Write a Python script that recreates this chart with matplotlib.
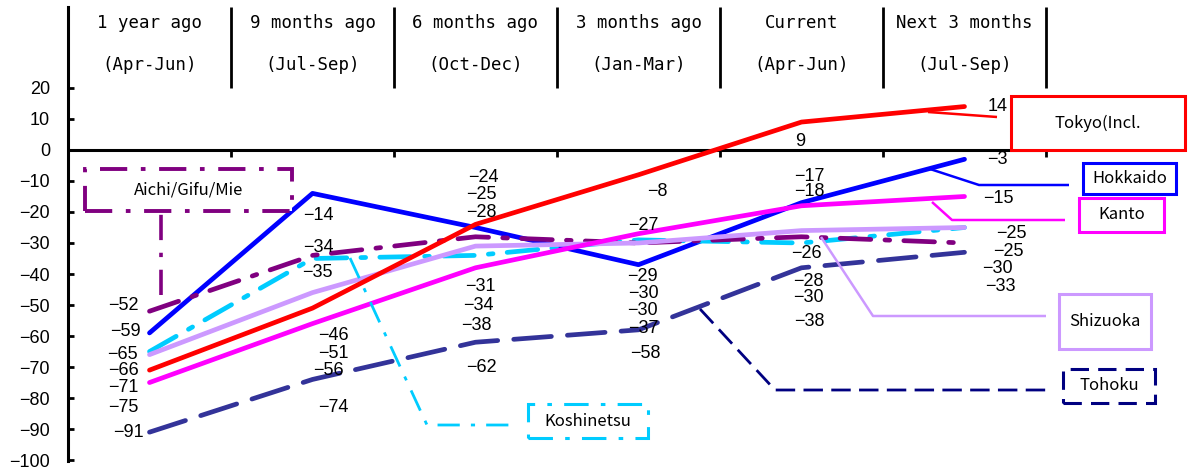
import matplotlib
matplotlib.use("Agg")
import matplotlib.pyplot as plt
from matplotlib.patches import Rectangle

# ---- data -------------------------------------------------------------
periods = ["1 year ago", "9 months ago", "6 months ago", "3 months ago",
           "Current", "Next 3 months"]
quarters = ["(Apr-Jun)", "(Jul-Sep)", "(Oct-Dec)", "(Jan-Mar)",
            "(Apr-Jun)", "(Jul-Sep)"]
y_ticks = list(range(-100, 21, 10))

tokyo = [-71, -51, -24, -8, 9, 14]
hokkaido = [-59, -14, -25, -37, -17, -3]
kanto = [-75, -56, -38, -27, -18, -15]
shizuoka = [-66, -46, -31, -30, -26, -25]
koshinetsu = [-65, -35, -34, -29, -30, -25]
aichi = [-52, -34, -28, -30, -28, -30]
tohoku = [-91, -74, -62, -58, -38, -33]

# ---- label placement (horizontal offset in px, vertical position) -----
lab_dx = {
    "tokyo": [-26, 21, 8, 19, -1, 33],
    "hokkaido": [-24, 6, 6, 5, 8, 33],
    "kanto": [-26, 16, 1, 5, 8, 34],
    "shizuoka": [-26, 21, 5, 4, 5, 47],
    "koshinetsu": [-27, 5, 3, 4, 7, 44],
    "aichi": [-26, 6, 6, 5, 7, 33],
    "tohoku": [-21, 21, 6, 7, 8, 36],
}
lab_y = {
    "tokyo": [-76.5, -65.5, -9, -13.5, 2.6, 14],
    "hokkaido": [-58.7, -21, -14.5, -57.6, -8.6, -3.2],
    "kanto": [-83, -71, -56.5, -24.2, -13.4, -15.8],
    "shizuoka": [-71, -59.7, -43.9, -51.8, -33.5, -27],
    "koshinetsu": [-66, -39.4, -50, -40.9, -47.6, -32.9],
    "aichi": [-50, -31.6, -20.3, -46.4, -42.5, -38.1],
    "tohoku": [-91, -83.2, -70, -65.5, -55.4, -43.9],
}

W, H, DPI = 1190, 472, 100
fig = plt.figure(figsize=(W / DPI, H / DPI), dpi=DPI)
fig.patch.set_facecolor("white")

# axes spans the plotting frame; top part holds the period headers
ax = fig.add_axes([68 / W, 11 / H, (1046 - 68) / W, (461 - 7) / H])
ax.set_xlim(-0.5, 5.5)
ax.set_ylim(-100.3, 46.1)

num_font = ["Liberation Sans", "DejaVu Sans"]
box_font = ["Noto Sans CJK JP", "DejaVu Sans"]
head_font = ["DejaVu Sans Mono"]

for s in ("top", "right", "bottom"):
    ax.spines[s].set_visible(False)
ax.spines["left"].set_linewidth(2.2)
ax.set_xticks([])
ax.set_yticks(y_ticks)
ax.tick_params(axis="y", direction="in", length=4, width=2, pad=13,
               labelsize=13)
for t in ax.get_yticklabels():
    t.set_family(num_font)

x = list(range(len(periods)))

# zero line, category ticks and header separators
ax.axhline(0, color="black", lw=2.2, zorder=2)
seps = [i + 0.5 for i in x]
ax.vlines(seps, -2.3, 0, color="black", lw=2, zorder=2, clip_on=False)
ax.vlines(seps, 20, 46.1, color="black", lw=2, zorder=2, clip_on=False)
for i in x:
    ax.text(i, 41, periods[i], ha="center", va="center", fontsize=12.5,
            family=head_font)
    ax.text(i, 27.4, quarters[i], ha="center", va="center", fontsize=12.5,
            family=head_font)

LW = 3.4
dashdot = (6.5, 3.0, 1.0, 3.0)
series = [
    ("hokkaido", hokkaido, "#0000FF", None),
    ("tohoku", tohoku, "#333399", (8.0, 3.4)),
    ("koshinetsu", koshinetsu, "#00CCFF", dashdot),
    ("aichi", aichi, "#800080", dashdot),
    ("shizuoka", shizuoka, "#CC99FF", None),
    ("kanto", kanto, "#FF00FF", None),
    ("tokyo", tokyo, "#FF0000", None),
]
for k, (name, vals, col, dash) in enumerate(series):
    line, = ax.plot(x, vals, color=col, lw=LW, solid_capstyle="round",
                    solid_joinstyle="round", dash_capstyle="round",
                    zorder=3 + k)
    if dash is not None:
        line.set_dashes(dash)
    for i, v in enumerate(vals):
        ax.annotate(f"{v:d}".replace("-", "\u2212"),
                    xy=(i, lab_y[name][i]),
                    xytext=(lab_dx[name][i] * 72 / DPI, 0),
                    textcoords="offset points", ha="center", va="center",
                    fontsize=13, family=num_font, zorder=20,
                    annotation_clip=False)

# ---- callout labels ---------------------------------------------------
inv = ax.transData.inverted()


def P(px, py):
    return tuple(inv.transform((px, H - py)))


def leader(pts, color, lw=1.8, dashes=None):
    xs, ys = zip(*[P(a, b) for a, b in pts])
    ln, = ax.plot(xs, ys, color=color, lw=lw, clip_on=False, zorder=15,
                  solid_capstyle="butt")
    if dashes is not None:
        ln.set_dashes(dashes)


def box(x0, y0, x1, y1, text, color, lw=2.2, dashes=None):
    (a, b) = P(x0, y1)
    (c, d) = P(x1, y0)
    r = Rectangle((a, b), c - a, d - b, fill=True, facecolor="white",
                  edgecolor=color, lw=lw, clip_on=False, zorder=16)
    if dashes is not None:
        r.set_linestyle((0, dashes))
    ax.add_patch(r)
    ax.text((a + c) / 2, (b + d) / 2, text, ha="center", va="center",
            fontsize=12, family=box_font, zorder=17, clip_on=False)


leader([(928, 112), (997, 117)], "#FF0000")
box(1011, 96, 1185, 150, "Tokyo(Incl.", "#FF0000")

leader([(930, 169), (979, 185), (1069, 185)], "#0000FF")
box(1083, 163, 1176, 194, "Hokkaido", "#0000FF")

leader([(932, 202), (952, 220), (1065, 220)], "#FF00FF")
box(1079, 198, 1164, 232, "Kanto", "#FF00FF")

leader([(821, 237), (873, 316), (1046, 316)], "#CC99FF")
box(1059, 294, 1151, 349, "Shizuoka", "#CC99FF")

leader([(700, 309), (775, 390), (1048, 390)], "#000080", lw=2.0,
       dashes=(7, 3))
box(1063, 369, 1155, 403, "Tohoku", "#000080", dashes=(6, 3))

leader([(350, 258), (427, 425), (513, 425)], "#00CCFF", lw=2.0,
       dashes=(8, 4, 1.5, 4))
box(528, 404, 648, 438, "Koshinetsu", "#00CCFF", dashes=(8, 4, 1.5, 4))

leader([(161, 295), (161, 211)], "#800080", lw=2.6, dashes=(7, 3.5, 1.2, 3.5))
box(85, 169, 292, 211, "Aichi/Gifu/Mie", "#800080", lw=2.8,
    dashes=(7, 3.5, 1.2, 3.5))

fig.savefig("out.png", dpi=DPI, facecolor="white")
